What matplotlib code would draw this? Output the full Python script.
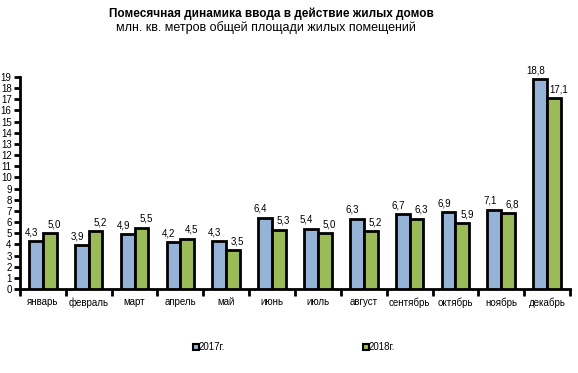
import matplotlib.pyplot as plt
import numpy as np

months = ['январь', 'февраль', 'март', 'апрель', 'май', 'июнь',
          'июль', 'август', 'сентябрь', 'октябрь', 'ноябрь', 'декабрь']
vals_2017 = [4.3, 3.9, 4.9, 4.2, 4.3, 6.4, 5.4, 6.3, 6.7, 6.9, 7.1, 18.8]
vals_2018 = [5.0, 5.2, 5.5, 4.5, 3.5, 5.3, 5.0, 5.2, 6.3, 5.9, 6.8, 17.1]
series_names = ['2017г.', '2018г.']

plt.rcParams['font.family'] = ['Liberation Sans', 'DejaVu Sans']

fig = plt.figure(figsize=(5.78, 3.73), dpi=100)
ax = fig.add_axes([20/578, 84/373, 550/578, 212/373])

x = np.arange(len(months))
w = 0.3
c17 = '#95b3d7'
c18 = '#9bbb59'
ax.bar(x - w/2, vals_2017, w, color=c17, edgecolor='black', linewidth=2, zorder=3)
ax.bar(x + w/2, vals_2018, w, color=c18, edgecolor='black', linewidth=2, zorder=3)

def fmt(v):
    return ('%.1f' % v).replace('.', ',')

for i in range(len(months)):
    ax.text(x[i] - w/2 - 0.1, vals_2017[i] + 0.35, fmt(vals_2017[i]),
            ha='center', va='bottom', fontsize=7)
    ax.text(x[i] + w/2 + 0.1, vals_2018[i] + 0.35, fmt(vals_2018[i]),
            ha='center', va='bottom', fontsize=7)

ax.set_xlim(-0.5, len(months) - 0.5)
ax.set_ylim(0, 19)
ax.set_yticks(range(0, 20))
ax.tick_params(axis='y', labelsize=7, length=4, width=2, direction='out', pad=2)
ax.set_xticks(np.arange(-0.5, len(months), 1))
ax.set_xticklabels([])
ax.set_xticks(x, minor=True)
ax.set_xticklabels(months, minor=True)
ax.tick_params(axis='x', which='major', length=5, width=2, direction='out')
ax.tick_params(axis='x', which='minor', length=0, labelsize=7, pad=6)

for s in ['top', 'right']:
    ax.spines[s].set_visible(False)
ax.spines['left'].set_linewidth(2)
ax.spines['bottom'].set_linewidth(2)

fig.text(271/578, 1 - 14/373, 'Помесячная динамика ввода в действие жилых домов',
         ha='center', va='center', fontsize=8.5, fontweight='bold')
fig.text(266/578, 1 - 28/373, 'млн. кв. метров общей площади жилых помещений',
         ha='center', va='center', fontsize=9)

# legend
for px, col, name in [(196, c17, series_names[0]), (366, c18, series_names[1])]:
    fig.patches.append(plt.Rectangle((px/578 - 3/578, 1 - 350/373), 6/578, 6/373,
                                     transform=fig.transFigure, facecolor=col,
                                     edgecolor='black', linewidth=1.5))
    fig.text(px/578 + 3/578, 1 - 347/373, name, ha='left', va='center', fontsize=7)

fig.savefig('out.png', dpi=100)
